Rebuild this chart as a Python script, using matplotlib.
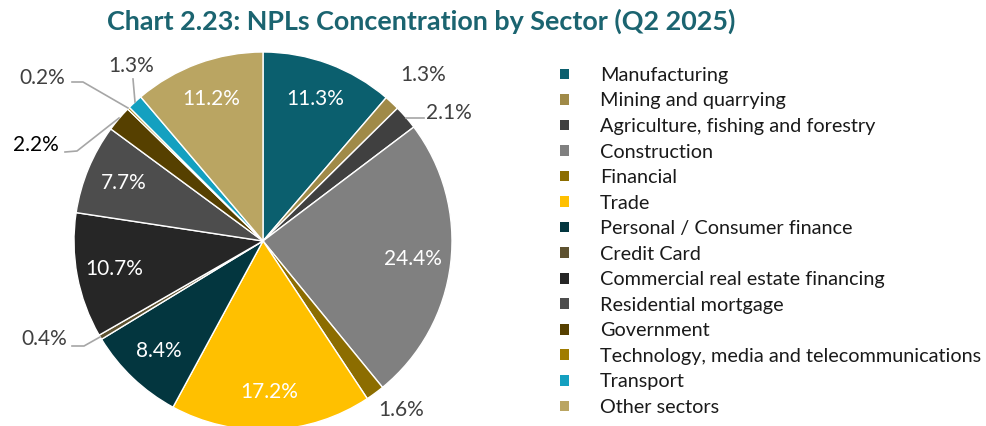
import numpy as np
import matplotlib.pyplot as plt

plt.rcParams.update({'font.family': ['Lato', 'DejaVu Sans']})

sectors = ['Manufacturing', 'Mining and quarrying', 'Agriculture, fishing and forestry',
           'Construction', 'Financial', 'Trade', 'Personal / Consumer finance',
           'Credit Card', 'Commercial real estate financing', 'Residential mortgage',
           'Government', 'Technology, media and telecommunications', 'Transport',
           'Other sectors']
shares = [11.3, 1.3, 2.1, 24.4, 1.6, 17.2, 8.4, 0.4, 10.7, 7.7, 2.2, 0.2, 1.3, 11.2]
colors = ['#0b5f6e', '#a08a48', '#404040', '#808080', '#8c6d00', '#ffc000', '#03363f',
          '#5e5230', '#262626', '#4d4d4d', '#564000', '#a07c00', '#14a0c0', '#baa562']

# pie geometry in pixels (figure is 987x426)
W, H = 987, 426
CX, CY, R = 263, 241, 189


def px(x, y):
    return ((x - CX) / R, (CY - y) / R)


# outside labels: index -> (text centre px, leader path px or None, colour)
outside = {
    1: ((423, 75), None, '#404040'),
    2: ((449, 113), [(406, 118), (424, 118)], '#404040'),
    4: ((401, 410), None, '#404040'),
    7: ((44, 339), [(100, 337), (84, 346), (72, 346)], '#404040'),
    10: ((36, 145), [(119, 118), (77, 151), (65, 152)], '#000000'),
    11: ((42, 78), [(128, 108), (83, 82), (72, 82)], '#404040'),
    12: ((131, 66), [(135, 102), (133, 79)], '#404040'),
}

fig = plt.figure(figsize=(W / 100, H / 100), dpi=100)
ax = fig.add_axes([0, 0, 1, 1])

wedges, _ = ax.pie(shares, colors=colors, startangle=90, counterclock=False,
                   radius=1, center=(0, 0), frame=True,
                   wedgeprops=dict(edgecolor='white', linewidth=1))
ax.set_xlim(-CX / R, (W - CX) / R)
ax.set_ylim(-(H - CY) / R, CY / R)
ax.axis('off')

for i, (w, v) in enumerate(zip(wedges, shares)):
    lab = f'{v:.1f}%'
    if i in outside:
        (tx, ty), path, col = outside[i]
        if path:
            pts = np.array([px(*p) for p in path])
            ax.plot(pts[:, 0], pts[:, 1], color='#a6a6a6', lw=1.2)
        ax.text(*px(tx, ty), lab, ha='center', va='center', fontsize=15, color=col)
    else:
        ang = np.deg2rad((w.theta1 + w.theta2) / 2)
        ax.text(0.8 * np.cos(ang), 0.8 * np.sin(ang), lab, ha='center', va='center',
                fontsize=15, color='white')

fig.text(421 / W, 1 - 21 / H, 'Chart 2.23: NPLs Concentration by Sector (Q2 2025)',
         ha='center', va='center', fontsize=19.4, fontweight='bold', color='#1b6470')

leg = fig.legend(wedges, sectors, loc='upper left', bbox_to_anchor=(552 / W, 1 - 59 / H),
                 frameon=False, fontsize=14.3, handlelength=0.45, handleheight=0.45,
                 handletextpad=1.56, labelspacing=0.43, borderaxespad=0)
for t in leg.get_texts():
    t.set_color('#1a1a1a')
for h in leg.legend_handles:
    h.set_edgecolor('none')

fig.savefig('out.png', dpi=100)
